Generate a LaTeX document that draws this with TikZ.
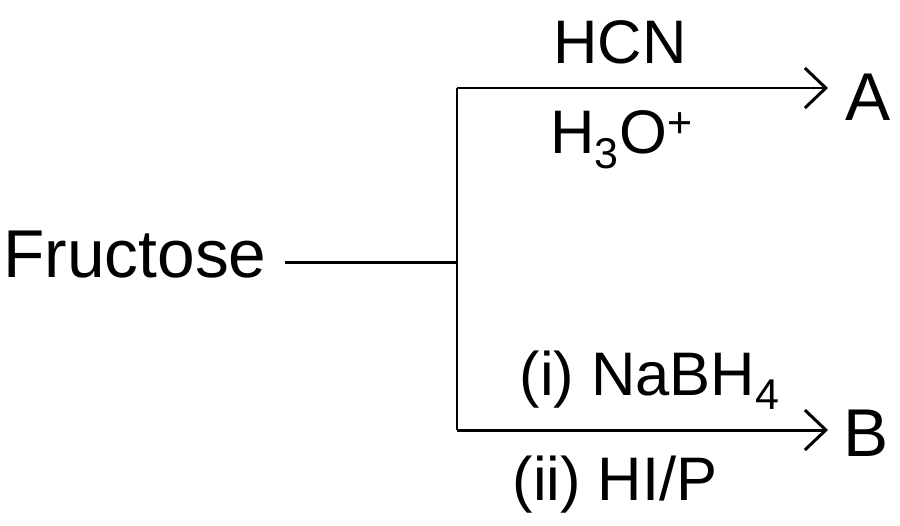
\documentclass[tikz,border=0pt]{standalone}
\usepackage{fontspec}
\setmainfont{Liberation Sans}
\usetikzlibrary{arrows.meta}
\tikzset{every path/.style={line width=1.7pt},
  big/.style={font=\fontsize{38.5}{40}\selectfont, inner sep=0pt},
  reag/.style={font=\fontsize{35}{38}\selectfont, inner sep=0pt},
  rxn/.style={-{Straight Barb[length=0.42cm,width=0.8cm,line width=1.7pt]}}}
\begin{document}
\begin{tikzpicture}[x=0.02cm,y=-0.02cm]
  \useasboundingbox (0,0) rectangle (900,525);
  \node[big] (fru) at (135,255) {Fructose};
  \node[big] (A) at (868,97) {A};
  \node[big] (B) at (866,433) {B};
  \coordinate (s) at (285,262);
  \coordinate (j) at (457,262);
  \coordinate (ta) at (457,88);
  \coordinate (tb) at (457,430);
  \coordinate (ea) at (828,88);
  \coordinate (eb) at (828,430);
  \draw (s) -- (j);
  \draw (ta) -- (tb);
  \draw[rxn] (ta) -- (ea);
  \draw[rxn] (tb) -- (eb);
  \node[reag] (hcn) at (620,42) {HCN};
  \node[reag] (h3o) at (622,140) {H\textsubscript{3}O\textsuperscript{+}};
  \node[reag] (nab) at (650,380) {(i) NaBH\textsubscript{4}};
  \node[reag] (hip) at (615,485) {(ii) HI/P};
\end{tikzpicture}
\end{document}
